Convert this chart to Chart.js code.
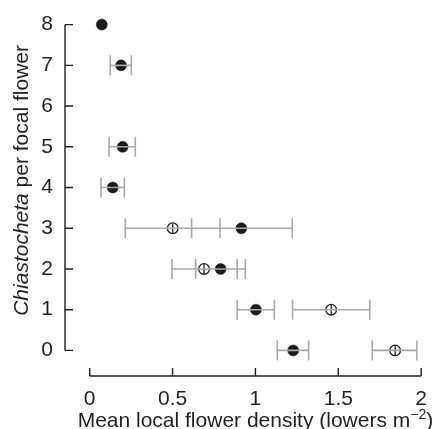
<!DOCTYPE html>
<html>
<head>
<meta charset="utf-8">
<script src="https://cdn.jsdelivr.net/npm/chart.js@4"></script>
<style>
  html, body { margin: 0; padding: 0; background: #fff; }
  #wrap { width: 438px; height: 429px; position: relative; overflow: hidden; }
  #ytitle {
    position: absolute; left: 10px; top: 30px; width: 21px; height: 300px;
    font: 21px 'Liberation Sans', Arial, Helvetica, sans-serif;
    line-height: 21px; color: #231f20; text-align: center; white-space: nowrap;
    writing-mode: sideways-lr;
  }
  #ytitle.fallback { writing-mode: vertical-rl; transform: rotate(180deg); }
</style>
</head>
<body>
<div id="wrap"><canvas id="c"></canvas><div id="ytitle"><i>Chiastocheta</i> per focal flower</div></div>
<script>
if (!(window.CSS && CSS.supports('writing-mode', 'sideways-lr'))) {
  document.getElementById('ytitle').classList.add('fallback');
}
// ---- data ----
const X_TICKS = [0, 0.5, 1, 1.5, 2];
const Y_TICKS = [0, 1, 2, 3, 4, 5, 6, 7, 8];

const filledY  = [8, 7, 5, 4, 3, 2, 1, 0];
const filledX  = [0.073, 0.189, 0.199, 0.139, 0.915, 0.790, 1.003, 1.228];
const filledLo = [null, 0.124, 0.117, 0.068, 0.615, 0.639, 0.890, 1.132];
const filledHi = [null, 0.251, 0.275, 0.209, 1.222, 0.939, 1.114, 1.321];

const openY  = [3, 2, 1, 0];
const openX  = [0.501, 0.690, 1.457, 1.843];
const openLo = [0.215, 0.496, 1.224, 1.705];
const openHi = [0.786, 0.890, 1.690, 1.974];

const X_TITLE_MAIN = 'Mean local flower density (lowers m';
const X_TITLE_SUP = '\u22122';
const X_TITLE_END = ')';

const FONT = "'Liberation Sans', Arial, Helvetica, sans-serif";
const TEXT = '#231f20';
const AXIS = '#231f20';
const ERR = '#a9a9a9';

function toPts(xs, ys) { return xs.map((x, i) => ({ x: x, y: ys[i] })); }
function errData(lo, hi, ys) {
  const out = [];
  lo.forEach((l, i) => {
    if (l === null) return;
    out.push({ x: l, y: ys[i] }, { x: hi[i], y: ys[i] }, { x: null, y: null });
  });
  return out;
}
const errPts = errData(filledLo, filledHi, filledY).concat(errData(openLo, openHi, openY));

const axesPlugin = {
  id: 'axesPlugin',
  beforeDatasetsDraw(chart) {
    const { ctx, scales: { x, y } } = chart;
    ctx.save();
    ctx.strokeStyle = AXIS;
    ctx.lineWidth = 1.4;
    const ax = chart.chartArea.left;
    const y0 = y.getPixelForValue(Y_TICKS[0]);
    const y1 = y.getPixelForValue(Y_TICKS[Y_TICKS.length - 1]);
    ctx.beginPath();
    ctx.moveTo(ax, y0); ctx.lineTo(ax, y1);
    Y_TICKS.forEach(v => { const p = y.getPixelForValue(v); ctx.moveTo(ax, p); ctx.lineTo(ax + 8, p); });
    ctx.stroke();
    const ay = chart.chartArea.bottom;
    const x0 = x.getPixelForValue(X_TICKS[0]);
    const x1 = x.getPixelForValue(X_TICKS[X_TICKS.length - 1]);
    ctx.beginPath();
    ctx.moveTo(x0, ay); ctx.lineTo(x1, ay);
    X_TICKS.forEach(v => { const p = x.getPixelForValue(v); ctx.moveTo(p, ay); ctx.lineTo(p, ay - 8); });
    ctx.stroke();
    ctx.restore();
  },
  afterDraw(chart) {
    const { ctx, scales: { x } } = chart;
    ctx.save();
    ctx.fillStyle = TEXT;
    ctx.textBaseline = 'alphabetic';
    ctx.textAlign = 'left';
    const fMain = '21px ' + FONT, fSup = '14px ' + FONT;
    ctx.font = fMain;
    const wMain = ctx.measureText(X_TITLE_MAIN).width;
    const wEnd = ctx.measureText(X_TITLE_END).width;
    ctx.font = fSup;
    const wSup = ctx.measureText(X_TITLE_SUP).width;
    const cx = (x.getPixelForValue(X_TICKS[0]) + x.getPixelForValue(X_TICKS[X_TICKS.length - 1])) / 2;
    let sx = cx - (wMain + wSup + wEnd) / 2;
    const by = 427;
    ctx.font = fMain; ctx.fillText(X_TITLE_MAIN, sx, by); sx += wMain;
    ctx.font = fSup; ctx.fillText(X_TITLE_SUP, sx, by - 8); sx += wSup;
    ctx.font = fMain; ctx.fillText(X_TITLE_END, sx, by);
    ctx.restore();
  }
};

new Chart(document.getElementById('c'), {
  type: 'scatter',
  data: {
    datasets: [
      { label: 'error bars', data: errPts, showLine: true, spanGaps: false, borderColor: ERR, borderWidth: 1.6,
        pointStyle: 'line', pointRotation: 90, pointRadius: 10, pointBorderColor: ERR, pointBorderWidth: 1.6, clip: false, order: 0 },
      { label: 'open cross', data: toPts(openX, openY), pointStyle: 'line', pointRotation: 90, pointRadius: 5,
        pointBorderColor: '#231f20', pointBorderWidth: 1.3, clip: false, order: 1 },
      { label: 'open', data: toPts(openX, openY), pointStyle: 'circle', pointRadius: 5.3, pointBackgroundColor: '#ffffff',
        pointBorderColor: '#231f20', pointBorderWidth: 1.3, clip: false, order: 2 },
      { label: 'filled', data: toPts(filledX, filledY), pointStyle: 'circle', pointRadius: 5.5, pointBackgroundColor: '#1a1a1a',
        pointBorderColor: '#1a1a1a', pointBorderWidth: 0.5, clip: false, order: 3 }
    ]
  },
  options: {
    responsive: true,
    maintainAspectRatio: false,
    animation: false,
    events: [],
    layout: { padding: { top: 23, right: 13, left: 0, bottom: 0 } },
    plugins: { legend: { display: false }, tooltip: { enabled: false }, title: { display: false } },
    scales: {
      x: {
        type: 'linear', min: -0.149, max: 2,
        afterBuildTicks: s => { s.ticks = X_TICKS.map(v => ({ value: v })); },
        afterFit: s => { s.height = 53; },
        grid: { display: false, drawTicks: false }, border: { display: false }, title: { display: false },
        ticks: { autoSkip: false, maxRotation: 0, minRotation: 0, padding: 11, color: TEXT, font: { size: 21, family: FONT }, callback: v => String(v) }
      },
      y: {
        type: 'linear', min: -0.628, max: 8,
        afterBuildTicks: s => { s.ticks = Y_TICKS.map(v => ({ value: v })); },
        afterFit: s => { s.width = 65; },
        grid: { display: false, drawTicks: false }, border: { display: false }, title: { display: false },
        ticks: { autoSkip: false, maxRotation: 0, minRotation: 0, padding: 12, color: TEXT, font: { size: 21, family: FONT }, callback: v => String(v) }
      }
    }
  },
  plugins: [axesPlugin]
});
</script>
</body>
</html>
